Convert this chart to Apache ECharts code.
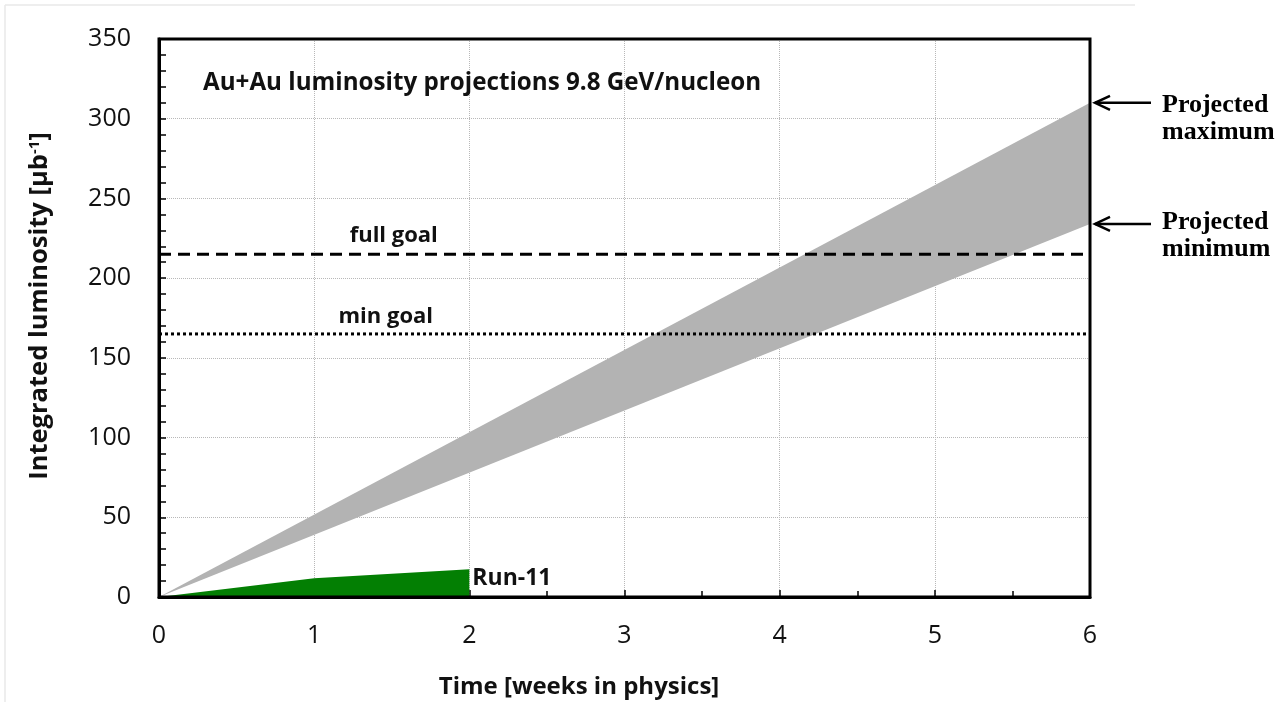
<!DOCTYPE html>
<html>
<head>
<meta charset="utf-8">
<script src="https://cdn.jsdelivr.net/npm/echarts@6/dist/echarts.min.js"></script>
<style>
  html, body { margin: 0; padding: 0; background: #fff; }
  #chart { width: 1288px; height: 702px; }
</style>
</head>
<body>
<div id="chart"></div>
<script>
// Weeks in physics and integrated luminosity (μb^-1)
const projWeeks = [0, 6];
const projMin = [0, 234];
const projMax = [0, 310];
const run11Weeks = [0, 1, 2];
const run11Lumi = [0, 11.7, 17.4];
const fullGoal = 215;
const minGoal = 165;
const xTicks = [0, 1, 2, 3, 4, 5, 6];
const yTicks = [0, 50, 100, 150, 200, 250, 300, 350];

const FONT = '"Open Sans", Lato, sans-serif';
const SERIF = '"Liberation Serif", "DejaVu Serif", serif';

const chart = echarts.init(document.getElementById('chart'), null, { renderer: 'canvas' });

const pairs = (xs, ys) => xs.map((x, i) => [x, ys[i]]);
// one row per week: [week, min, max]
const bandRows = projWeeks.map((w, i) => [w, projMin[i], projMax[i]]);

const option = {
  backgroundColor: '#fff',
  animation: false,
  grid: { left: 159, right: 198, top: 39, bottom: 105, show: true, borderColor: '#000', borderWidth: 3, backgroundColor: 'transparent', z: 5 },
  xAxis: {
    type: 'value', min: xTicks[0], max: xTicks[xTicks.length - 1], interval: 1,
    axisLine: { show: true, onZero: false, lineStyle: { color: '#000', width: 3 } },
    axisTick: { show: true, inside: true, length: 7, lineStyle: { color: '#000', width: 1.5 } },
    minorTick: { show: true, splitNumber: 2, length: 6, lineStyle: { color: '#000', width: 1.5 } },
    splitLine: { show: true, lineStyle: { color: '#b8b8b8', width: 1, type: [1, 1] } },
    axisLabel: { margin: 26, fontFamily: FONT, fontSize: 25, color: '#111' }
  },
  yAxis: {
    type: 'value', min: yTicks[0], max: yTicks[yTicks.length - 1], interval: 50,
    axisLine: { show: true, onZero: false, lineStyle: { color: '#000', width: 3 } },
    axisTick: { show: true, inside: true, length: 7, lineStyle: { color: '#000', width: 1.5 } },
    minorTick: { show: true, splitNumber: 5, length: 7, lineStyle: { color: '#000', width: 1.5 } },
    splitLine: { show: true, lineStyle: { color: '#b8b8b8', width: 1, type: [1, 1] } },
    axisLabel: { margin: 28, fontFamily: FONT, fontSize: 25, color: '#111' }
  },
  series: [
    {
      // projected range between minimum and maximum
      name: 'projection', type: 'custom', coordinateSystem: 'cartesian2d',
      data: bandRows, encode: { x: 0, y: [1, 2] }, z: 2, silent: true,
      renderItem: (params, api) => {
        if (params.dataIndex !== 0) return null;
        const upper = bandRows.map(r => api.coord([r[0], r[2]]));
        const lower = bandRows.map(r => api.coord([r[0], r[1]])).reverse();
        return {
          type: 'polygon',
          shape: { points: upper.concat(lower) },
          style: { fill: '#b3b3b3', stroke: null }
        };
      }
    },
    {
      name: 'Run-11', type: 'line', symbol: 'none',
      data: pairs(run11Weeks, run11Lumi),
      lineStyle: { width: 0 }, areaStyle: { color: '#037f03', opacity: 1 }, z: 3,
      endLabel: {
        show: true, formatter: 'Run-11', fontFamily: FONT, fontWeight: 'bold',
        fontSize: 23, color: '#111', offset: [0, 9], distance: 3
      }
    },
    {
      name: 'full goal', type: 'line', symbol: 'none',
      data: [[xTicks[0], fullGoal], [xTicks[xTicks.length - 1], fullGoal]],
      lineStyle: { color: '#000', width: 3, type: [12, 7] }, z: 4
    },
    {
      name: 'min goal', type: 'line', symbol: 'none',
      data: [[xTicks[0], minGoal], [xTicks[xTicks.length - 1], minGoal]],
      lineStyle: { color: '#000', width: 3, type: [3, 3] }, z: 4
    }
  ]
};

chart.setOption(option);

// Annotations positioned from data coordinates
const px = (x, y) => chart.convertToPixel({ gridIndex: 0 }, [x, y]);
const xEnd = xTicks[xTicks.length - 1];
const pMax = px(xEnd, projMax[projMax.length - 1]);
const pMin = px(xEnd, projMin[projMin.length - 1]);
const pFull = px(1.5, fullGoal);
const pMinG = px(1.5, minGoal);

function arrow(y) {
  const x0 = pMax[0] + 4, x1 = x0 + 57;
  return [
    { type: 'line', shape: { x1: x0 + 1, y1: y, x2: x1, y2: y }, style: { stroke: '#000', lineWidth: 2.5 } },
    { type: 'polyline', shape: { points: [[x0 + 16, y - 7], [x0 + 1, y], [x0 + 16, y + 7]] }, style: { stroke: '#000', lineWidth: 2.5, fill: null } }
  ];
}

const serifText = (x, y, text) => ({
  type: 'text', x, y,
  style: { text, font: 'bold 26px ' + SERIF, fill: '#000', align: 'left', verticalAlign: 'middle' }
});

chart.setOption({
  graphic: [
    // faint frame
    { type: 'line', shape: { x1: 5, y1: 5, x2: 1135, y2: 5 }, style: { stroke: '#e8e8e8', lineWidth: 1.5 } },
    { type: 'line', shape: { x1: 5, y1: 5, x2: 5, y2: 702 }, style: { stroke: '#e8e8e8', lineWidth: 1.5 } },
    {
      type: 'text', x: 203, y: 83,
      style: { text: 'Au+Au luminosity projections 9.8 GeV/nucleon', font: 'bold 24.2px ' + FONT, fill: '#111', align: 'left', verticalAlign: 'middle' }
    },
    {
      type: 'text', x: pFull[0] + 2, y: pFull[1] - 18,
      style: { text: 'full goal', font: 'bold 22px ' + FONT, fill: '#111', align: 'center', verticalAlign: 'middle' }
    },
    {
      type: 'text', x: pMinG[0] - 6, y: pMinG[1] - 17,
      style: { text: 'min goal', font: 'bold 22px ' + FONT, fill: '#111', align: 'center', verticalAlign: 'middle' }
    },
    {
      type: 'text', x: 579, y: 687,
      style: { text: 'Time [weeks in physics]', font: 'bold 24px ' + FONT, fill: '#111', align: 'center', verticalAlign: 'middle' }
    },
    {
      type: 'text', x: 40, y: 306, rotation: Math.PI / 2,
      style: {
        text: 'Integrated luminosity [μb{sup|-1}]',
        font: 'bold 25.5px ' + FONT, fill: '#111', align: 'center', verticalAlign: 'middle',
        rich: { sup: { fontFamily: FONT, fontWeight: 'bold', fontSize: 15, fill: '#111', verticalAlign: 'top', padding: [0, 0, 10, 0] } }
      }
    },
    ...arrow(pMax[1]),
    ...arrow(pMin[1]),
    serifText(1162, pMax[1] + 3, 'Projected'),
    serifText(1162, pMax[1] + 30, 'maximum'),
    serifText(1162, pMin[1] - 2, 'Projected'),
    serifText(1162, pMin[1] + 25, 'minimum')
  ]
});
</script>
</body>
</html>
